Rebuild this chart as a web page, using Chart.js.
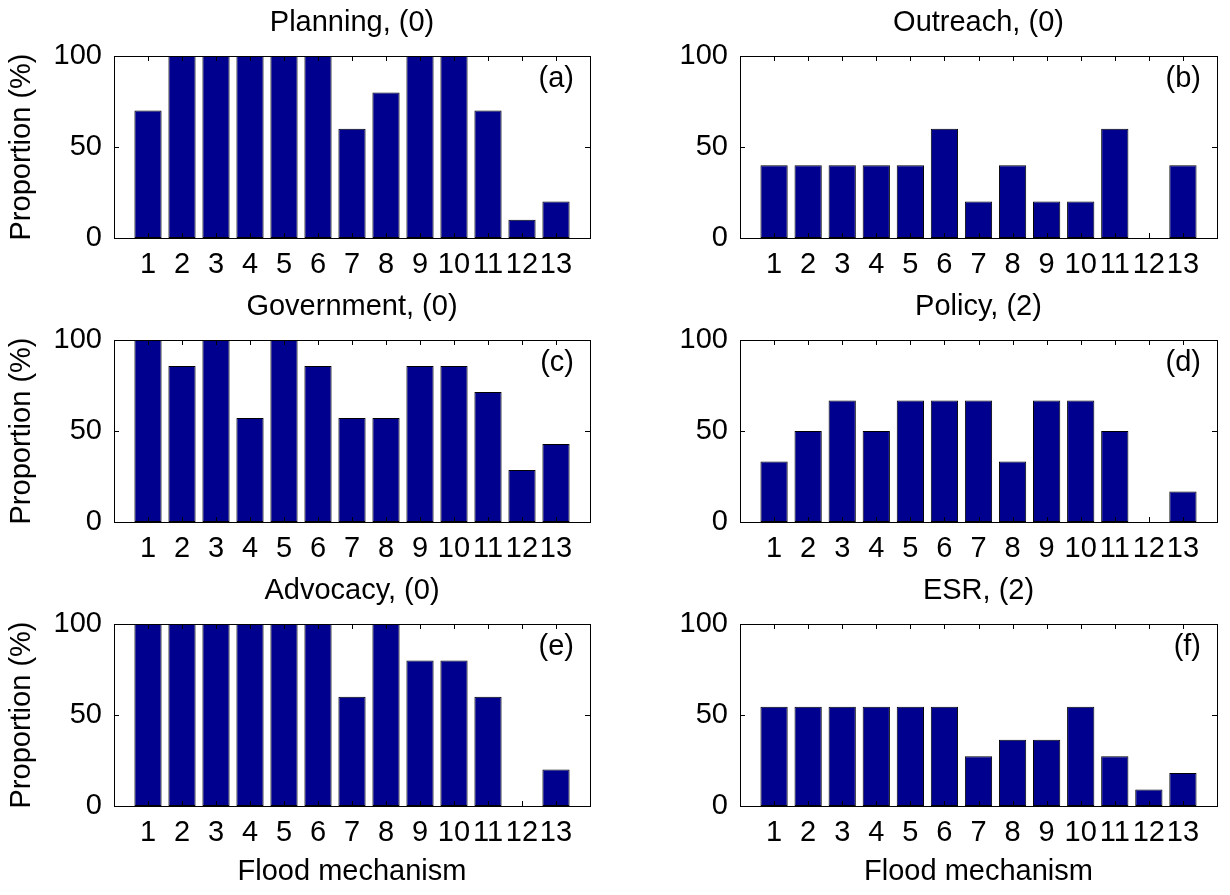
<!DOCTYPE html>
<html>
<head>
<meta charset="utf-8">
<script src="https://cdn.jsdelivr.net/npm/chart.js@4.4.0/dist/chart.umd.min.js"></script>
<style>
  body { margin: 0; background: #fff; width: 1230px; height: 895px; position: relative; overflow: hidden; }
  canvas { position: absolute; }
</style>
</head>
<body>
<canvas id="pa" width="615" height="284" style="left:0;top:0"></canvas>
<canvas id="pb" width="615" height="284" style="left:615px;top:0"></canvas>
<canvas id="pc" width="615" height="284" style="left:0;top:284px"></canvas>
<canvas id="pd" width="615" height="284" style="left:615px;top:284px"></canvas>
<canvas id="pe" width="615" height="327" style="left:0;top:568px"></canvas>
<canvas id="pf" width="615" height="327" style="left:615px;top:568px"></canvas>
<script>
// Flood mechanisms on the x axis
const mechanisms = [1, 2, 3, 4, 5, 6, 7, 8, 9, 10, 11, 12, 13];
const yTicks = [0, 50, 100];

// Proportion (%) per mechanism, one array per panel
const planning   = [70, 100, 100, 100, 100, 100, 60, 80, 100, 100, 70, 10, 20];
const outreach   = [40, 40, 40, 40, 40, 60, 20, 40, 20, 20, 60, 0, 40];
const government = [100, 85.7, 100, 57.1, 100, 85.7, 57.1, 57.1, 85.7, 85.7, 71.4, 28.6, 42.9];
const policy     = [33.3, 50, 66.7, 50, 66.7, 66.7, 66.7, 33.3, 66.7, 66.7, 50, 0, 16.7];
const advocacy   = [100, 100, 100, 100, 100, 100, 60, 100, 80, 80, 60, 0, 20];
const esr        = [54.5, 54.5, 54.5, 54.5, 54.5, 54.5, 27.3, 36.4, 36.4, 54.5, 27.3, 9.1, 18.2];

const FONT = { family: '"Liberation Sans", Arial, sans-serif', size: 29, weight: 'normal' };
const BAR_COLOR = '#00008F';

// Cadre façon MATLAB : boîte complète, graduations vers l'intérieur, lettre du panneau
const matlabBox = {
    id: 'matlabBox',
    afterDraw(chart, args, opts) {
        const { ctx, chartArea: a, scales: { x, y } } = chart;
        ctx.save();
        ctx.strokeStyle = '#000';
        ctx.lineWidth = 1;
        ctx.beginPath();
        mechanisms.forEach(m => {
            const px = Math.round(x.getPixelForValue(m)) + 0.5;
            ctx.moveTo(px, a.bottom); ctx.lineTo(px, a.bottom - 5);
            ctx.moveTo(px, a.top); ctx.lineTo(px, a.top + 5);
        });
        yTicks.forEach(v => {
            const py = Math.round(y.getPixelForValue(v)) + 0.5;
            ctx.moveTo(a.left, py); ctx.lineTo(a.left + 5, py);
            ctx.moveTo(a.right, py); ctx.lineTo(a.right - 5, py);
        });
        ctx.stroke();
        ctx.strokeRect(Math.round(a.left) + 0.5, Math.round(a.top) + 0.5,
            Math.round(a.right - a.left), Math.round(a.bottom - a.top));
        ctx.font = '29px "Liberation Sans", Arial, sans-serif';
        ctx.fillStyle = '#000';
        ctx.textAlign = 'right';
        ctx.textBaseline = 'middle';
        ctx.fillText(opts.letter, a.right - 16, a.top + 23);
        ctx.restore();
    }
};

function makePanel(id, values, title, letter, leftCol, bottomRow) {
    const yWidth = leftCol ? 114 : 125;
    const rightPad = leftCol ? 25 : 13;
    const xHeight = bottomRow ? 89 : 46;

    new Chart(document.getElementById(id), {
        type: 'bar',
        data: {
            datasets: [{
                data: mechanisms.map((m, i) => ({ x: m, y: values[i] })),
                backgroundColor: BAR_COLOR,
                borderColor: '#000',
                borderWidth: 1,
                borderSkipped: false,
                barPercentage: 0.8,
                categoryPercentage: 1
            }]
        },
        options: {
            responsive: false,
            animation: false,
            layout: { padding: { left: 0, right: rightPad, top: 0, bottom: 0 } },
            plugins: {
                legend: { display: false },
                tooltip: { enabled: false },
                title: {
                    display: true,
                    text: title,
                    fullSize: false,
                    color: '#000',
                    font: FONT,
                    padding: { top: 5.1, bottom: 16.1 }
                },
                matlabBox: { letter: letter }
            },
            scales: {
                x: {
                    type: 'linear',
                    min: 0,
                    max: 14,
                    offset: false,
                    grid: { display: false, drawTicks: false, offset: false },
                    border: { display: false },
                    ticks: {
                        stepSize: 1,
                        autoSkip: false,
                        maxRotation: 0,
                        padding: 9.6,
                        color: '#000',
                        font: FONT,
                        callback: v => (v >= 1 && v <= 13) ? String(v) : ''
                    },
                    title: {
                        display: bottomRow,
                        text: 'Flood mechanism',
                        color: '#000',
                        font: FONT,
                        padding: { top: 0, bottom: 5.6 }
                    },
                    afterFit: s => { s.height = xHeight; }
                },
                y: {
                    min: 0,
                    max: 100,
                    grid: { display: false, drawTicks: false },
                    border: { display: false },
                    ticks: {
                        stepSize: 50,
                        padding: 12,
                        color: '#000',
                        font: FONT
                    },
                    title: {
                        display: leftCol,
                        text: 'Proportion (%)',
                        color: '#000',
                        font: FONT,
                        padding: { top: 4.6, bottom: 0 }
                    },
                    afterFit: s => { s.width = yWidth; }
                }
            }
        },
        plugins: [matlabBox]
    });
}

makePanel('pa', planning, 'Planning, (0)', '(a)', true, false);
makePanel('pb', outreach, 'Outreach, (0)', '(b)', false, false);
makePanel('pc', government, 'Government, (0)', '(c)', true, false);
makePanel('pd', policy, 'Policy, (2)', '(d)', false, false);
makePanel('pe', advocacy, 'Advocacy, (0)', '(e)', true, true);
makePanel('pf', esr, 'ESR, (2)', '(f)', false, true);
</script>
</body>
</html>
